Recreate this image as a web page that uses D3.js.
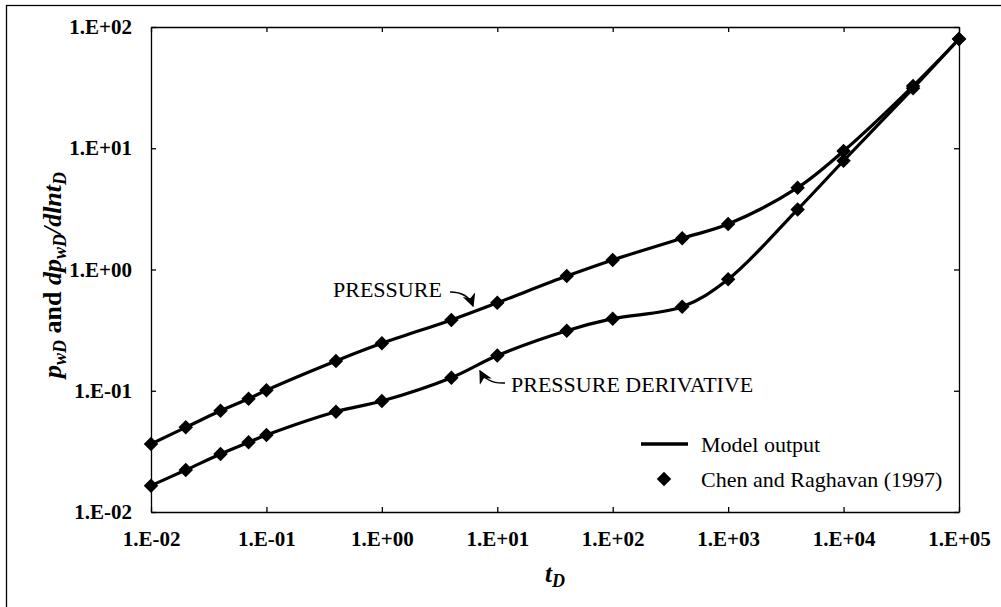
<!DOCTYPE html>
<meta charset="utf-8">
<style>
body { margin: 0; background: #fff; }
svg { display: block; }
text { font-family: "Liberation Serif", "Times New Roman", serif; fill: #000; }
.tick text { font-weight: bold; font-size: 21px; }
.axis path, .axis line { stroke: #000; stroke-width: 1.3; }
</style>
<body>
<script src="https://cdn.jsdelivr.net/npm/d3@7/dist/d3.min.js"></script>
<script>

// dimensionless time
var tD = [0.01, 0.02, 0.04, 0.07, 0.1, 0.4, 1, 4, 10, 40, 100, 400, 1000, 4000, 10000, 40000, 100000];
// Chen and Raghavan (1997) points
var pressure = [0.0364, 0.0499, 0.0684, 0.0859, 0.101, 0.176, 0.246, 0.384, 0.532, 0.883, 1.20, 1.81, 2.37, 4.73, 9.49, 32.6, 79.6];
var derivative = [0.0165, 0.0222, 0.0301, 0.0376, 0.0432, 0.0672, 0.0822, 0.128, 0.195, 0.313, 0.393, 0.493, 0.830, 3.13, 7.89, 31.2, 79.6];
var xTicks = [1e-2, 1e-1, 1e0, 1e1, 1e2, 1e3, 1e4, 1e5];
var yTicks = [1e-2, 1e-1, 1e0, 1e1, 1e2];
var tickLabels = ["1.E-02", "1.E-01", "1.E+00", "1.E+01", "1.E+02", "1.E+03", "1.E+04", "1.E+05"];

var W = 1001, H = 607;
var margin = {top: 27, right: 42, bottom: 95, left: 151},
    width = W - margin.left - margin.right,
    height = H - margin.top - margin.bottom;

var svg = d3.select("body").append("svg")
  .attr("width", W)
  .attr("height", H);

// outer frame (right and bottom edges fall outside the picture)
svg.append("rect")
  .attr("x", 6.5).attr("y", 5.5)
  .attr("width", 1010).attr("height", 620)
  .attr("fill", "none").attr("stroke", "#000").attr("stroke-width", 1.3);

var g = svg.append("g")
  .attr("transform", "translate(" + margin.left + "," + margin.top + ")");

var x = d3.scaleLog().domain([1e-2, 1e5]).range([0, width]);
var y = d3.scaleLog().domain([1e-2, 1e2]).range([height, 0]);

function lab(d) { return tickLabels[Math.round(Math.log10(d)) + 2]; }

// axes, ticks pointing inward
g.append("g").attr("class", "axis")
  .attr("transform", "translate(0," + height + ")")
  .call(d3.axisBottom(x).tickValues(xTicks).tickSizeInner(-5).tickSizeOuter(0).tickPadding(19).tickFormat(lab));
g.append("g").attr("class", "axis")
  .call(d3.axisLeft(y).tickValues(yTicks).tickSizeInner(-5).tickSizeOuter(0).tickPadding(19).tickFormat(lab));
g.append("g").attr("class", "axis")
  .call(d3.axisTop(x).tickValues(xTicks).tickSizeInner(-5).tickSizeOuter(0).tickFormat(""));
g.append("g").attr("class", "axis")
  .attr("transform", "translate(" + width + ",0)")
  .call(d3.axisRight(y).tickValues(yTicks).tickSizeInner(-5).tickSizeOuter(0).tickFormat(""));

g.selectAll(".tick text").attr("fill", "#000");
g.selectAll(".axis .domain").attr("stroke-width", 1.6);

// model curves
var line = d3.line()
  .x(function (d) { return x(d[0]); })
  .y(function (d) { return y(d[1]); })
  .curve(d3.curveCatmullRom.alpha(0.5));

[pressure, derivative].forEach(function (s) {
  g.append("path")
    .datum(tD.map(function (t, i) { return [t, s[i]]; }))
    .attr("d", line)
    .attr("fill", "none")
    .attr("stroke", "#000")
    .attr("stroke-width", 3.2);
});

// data points
var diamond = d3.symbol().type(d3.symbolSquare).size(105);
[pressure, derivative].forEach(function (s) {
  g.selectAll(null)
    .data(tD.map(function (t, i) { return [t, s[i]]; }))
    .enter().append("path")
    .attr("d", diamond)
    .attr("transform", function (d) { return "translate(" + x(d[0]) + "," + y(d[1]) + ") rotate(45)"; })
    .attr("fill", "#000");
});

// annotations
svg.append("text").attr("x", 333).attr("y", 297).style("font-size", "22px").text("PRESSURE");
svg.append("text").attr("x", 511).attr("y", 392).style("font-size", "22px").text("PRESSURE DERIVATIVE");

svg.append("defs").append("marker")
  .attr("id", "arr").attr("viewBox", "0 0 10 10")
  .attr("refX", 9).attr("refY", 5)
  .attr("markerWidth", 9).attr("markerHeight", 9)
  .attr("orient", "auto")
  .append("path").attr("d", "M0,0 L10,5 L0,10 L3,5 Z").attr("fill", "#000");

svg.append("path")
  .attr("d", "M450,292 Q468,292 473,306")
  .attr("fill", "none").attr("stroke", "#000").attr("stroke-width", 1.5)
  .attr("marker-end", "url(#arr)");
svg.append("path")
  .attr("d", "M505,383 Q487,384 480,371")
  .attr("fill", "none").attr("stroke", "#000").attr("stroke-width", 1.5)
  .attr("marker-end", "url(#arr)");

// legend
svg.append("line").attr("x1", 641).attr("x2", 688).attr("y1", 444).attr("y2", 444)
  .attr("stroke", "#000").attr("stroke-width", 3.5);
svg.append("text").attr("x", 701).attr("y", 452).style("font-size", "22px").text("Model output");
svg.append("path").attr("d", diamond)
  .attr("transform", "translate(664,479) rotate(45)").attr("fill", "#000");
svg.append("text").attr("x", 701).attr("y", 487).style("font-size", "22px").text("Chen and Raghavan (1997)");

// axis titles
var xt = svg.append("text")
  .attr("x", margin.left + width / 2).attr("y", 582)
  .attr("text-anchor", "middle")
  .style("font-size", "25px").style("font-weight", "bold").style("font-style", "italic");
xt.append("tspan").text("t");
xt.append("tspan").attr("dy", 5).style("font-size", "18px").text("D");

var yt = svg.append("text")
  .attr("transform", "translate(61,275) rotate(-90)")
  .attr("text-anchor", "middle")
  .style("font-size", "26px").style("font-weight", "bold");
yt.append("tspan").style("font-style", "italic").text("p");
yt.append("tspan").attr("dy", 5).style("font-style", "italic").style("font-size", "18px").text("wD");
yt.append("tspan").attr("dy", -5).text(" and ");
yt.append("tspan").style("font-style", "italic").text("dp");
yt.append("tspan").attr("dy", 5).style("font-style", "italic").style("font-size", "18px").text("wD");
yt.append("tspan").attr("dy", -5).style("font-style", "italic").text("/dlnt");
yt.append("tspan").attr("dy", 5).style("font-style", "italic").style("font-size", "18px").text("D");

</script>
</body>
